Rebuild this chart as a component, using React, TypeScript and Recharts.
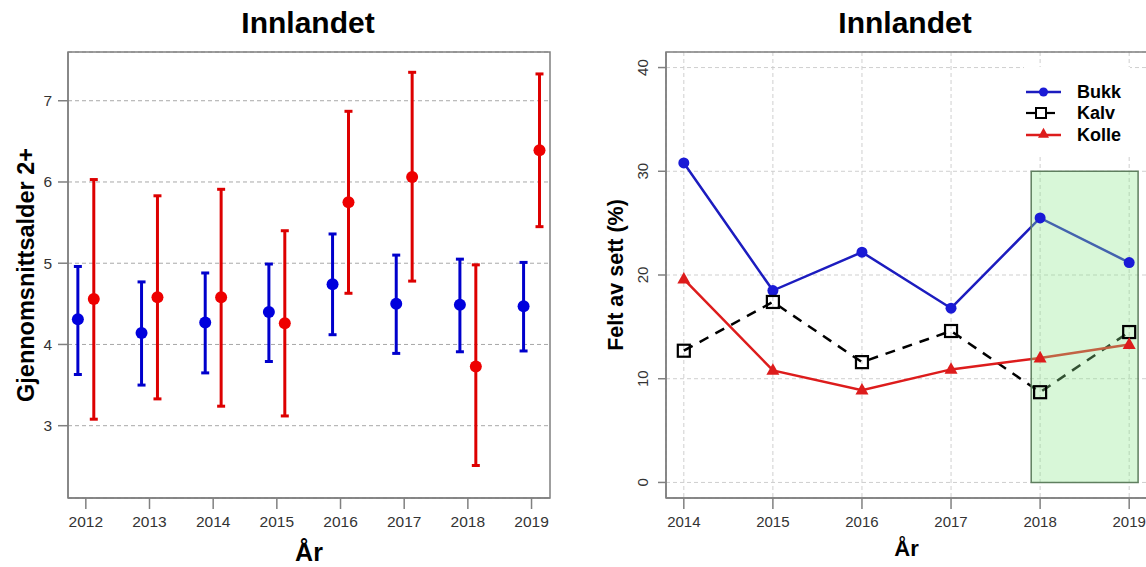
import React from 'react';
import {
  ScatterChart,
  Scatter,
  ErrorBar,
  LineChart,
  Line,
  XAxis,
  YAxis,
  CartesianGrid,
  ReferenceArea,
} from 'recharts';

const FONT = '"Liberation Sans", Arial, Helvetica, sans-serif';

// venstre panel: gjennomsnittsalder 2+ (middel og feilfelt)
const ageYears = [2012, 2013, 2014, 2015, 2016, 2017, 2018, 2019];
const blueMean = [4.31, 4.14, 4.27, 4.4, 4.74, 4.5, 4.49, 4.47];
const blueLow = [3.63, 3.5, 3.65, 3.79, 4.12, 3.89, 3.91, 3.92];
const blueHigh = [4.96, 4.77, 4.88, 4.99, 5.36, 5.1, 5.05, 5.01];
const redMean = [4.56, 4.58, 4.58, 4.26, 5.75, 6.06, 3.73, 6.39];
const redLow = [3.08, 3.33, 3.24, 3.12, 4.63, 4.78, 2.51, 5.45];
const redHigh = [6.03, 5.83, 5.91, 5.4, 6.87, 7.35, 4.98, 7.33];
const ageTicks = [3, 4, 5, 6, 7];

// høyre panel: felt av sett (%)
const shotYears = [2014, 2015, 2016, 2017, 2018, 2019];
const bukk = [30.8, 18.5, 22.2, 16.8, 25.5, 21.2];
const kalv = [12.7, 17.4, 11.6, 14.6, 8.7, 14.5];
const kolle = [19.6, 10.8, 8.9, 10.9, 12.0, 13.3];
const shotTicks = [0, 10, 20, 30, 40];
const legendNames = ['Bukk', 'Kalv', 'Kolle'];

const TITLE = 'Innlandet';
const DODGE = 0.125;

const blueRows = ageYears.map((yr, i) => ({
  x: yr - DODGE,
  y: blueMean[i],
  err: [blueMean[i] - blueLow[i], blueHigh[i] - blueMean[i]],
}));
const redRows = ageYears.map((yr, i) => ({
  x: yr + DODGE,
  y: redMean[i],
  err: [redMean[i] - redLow[i], redHigh[i] - redMean[i]],
}));
const shotRows = shotYears.map((yr, i) => ({
  year: yr,
  bukk: bukk[i],
  kalv: kalv[i],
  kolle: kolle[i],
}));

const BLUE = '#0000dd';
const RED = '#ee0000';
const LINE_BLUE = '#1c1cbf';
const LINE_RED = '#dd1c1c';
const FRAME = '#808080';

const XTitle = (props: any) => {
  const { viewBox, text, dy, size } = props;
  return (
    <text
      x={viewBox.x + viewBox.width / 2}
      y={viewBox.y + dy}
      textAnchor="middle"
      fontFamily={FONT}
      fontWeight="bold"
      fontSize={size}
      fill="#000"
    >
      {text}
    </text>
  );
};

const YTitle = (props: any) => {
  const { viewBox, text, x, size } = props;
  const cy = viewBox.y + viewBox.height / 2;
  return (
    <text
      x={x}
      y={cy}
      transform={`rotate(-90 ${x} ${cy})`}
      textAnchor="middle"
      fontFamily={FONT}
      fontWeight="bold"
      fontSize={size}
      fill="#000"
    >
      {text}
    </text>
  );
};

const RotatedTick = (props: any) => {
  const { x, y, payload } = props;
  return (
    <text
      x={x}
      y={y}
      transform={`rotate(-90 ${x} ${y})`}
      textAnchor="middle"
      fontFamily={FONT}
      fontSize={15}
      fill="#333"
    >
      {payload.value}
    </text>
  );
};

const circleShape = (color: string) => (props: any) =>
  <circle cx={props.cx} cy={props.cy} r={6} fill={color} />;

const Triangle = ({ cx, cy, color, size }: any) => {
  const h = size * 0.9;
  return (
    <polygon
      points={`${cx},${cy - h * 0.62} ${cx - size / 2},${cy + h * 0.38} ${cx + size / 2},${cy + h * 0.38}`}
      fill={color}
    />
  );
};

const triangleDot = (props: any) => (
  <Triangle key={`t-${props.index}`} cx={props.cx} cy={props.cy} color={LINE_RED} size={13} />
);
const squareDot = (props: any) => (
  <rect
    key={`s-${props.index}`}
    x={props.cx - 6}
    y={props.cy - 6}
    width={12}
    height={12}
    fill="none"
    stroke="#000"
    strokeWidth={2.2}
  />
);
const circleDot = (props: any) => (
  <circle key={`c-${props.index}`} cx={props.cx} cy={props.cy} r={5.5} fill="#1a1ad6" />
);

const tickStyle = { fill: '#333', fontSize: 15.5, fontFamily: FONT };

const AgePanel = () => (
  <ScatterChart width={570} height={567} margin={{ top: 52, right: 20, bottom: 0, left: 0 }}>
    <CartesianGrid vertical={false} stroke="#a8a8a8" strokeDasharray="4 3" />
    <XAxis
      type="number"
      dataKey="x"
      domain={[2011.72, 2019.29]}
      ticks={ageYears}
      allowDataOverflow
      height={69}
      tickSize={11}
      tickMargin={7}
      stroke={FRAME}
      strokeWidth={1.5}
      tick={tickStyle}
      label={<XTitle text="År" dy={63} size={25} />}
    />
    <YAxis
      type="number"
      dataKey="y"
      domain={[2.11, 7.6]}
      ticks={ageTicks}
      allowDataOverflow
      width={68}
      tickSize={10}
      tickMargin={6}
      stroke={FRAME}
      strokeWidth={1.5}
      tick={tickStyle}
      label={<YTitle text="Gjennomsnittsalder 2+" x={29} size={23.5} />}
    />
    <ReferenceArea x1={2011.72} x2={2019.29} y1={2.11} y2={7.6} fill="none" stroke={FRAME} strokeWidth={1.5} />
    <Scatter data={blueRows} shape={circleShape(BLUE)} isAnimationActive={false}>
      <ErrorBar dataKey="err" direction="y" width={4} strokeWidth={3} stroke="#0000cc" isAnimationActive={false} />
    </Scatter>
    <Scatter data={redRows} shape={circleShape(RED)} isAnimationActive={false}>
      <ErrorBar dataKey="err" direction="y" width={4} strokeWidth={3} stroke="#dd0000" isAnimationActive={false} />
    </Scatter>
  </ScatterChart>
);

const ShotPanel = () => (
  <LineChart width={570} height={567} data={shotRows} margin={{ top: 52, right: 3, bottom: 0, left: 0 }}>
    <CartesianGrid stroke="#cfcfcf" strokeDasharray="4 3" />
    <XAxis
      type="number"
      dataKey="year"
      domain={[2013.8, 2019.2]}
      ticks={shotYears}
      allowDataOverflow
      height={69}
      tickSize={11}
      tickMargin={7}
      stroke={FRAME}
      strokeWidth={1.5}
      tick={{ ...tickStyle, fontSize: 15 }}
      label={<XTitle text="År" dy={58} size={22} />}
    />
    <YAxis
      type="number"
      domain={[-1.5, 41.5]}
      ticks={shotTicks}
      allowDataOverflow
      width={86}
      tickSize={8}
      tickMargin={10}
      stroke={FRAME}
      strokeWidth={1.5}
      tick={<RotatedTick />}
      label={<YTitle text="Felt av sett (%)" x={41} size={21.5} />}
    />
    <ReferenceArea x1={2013.8} x2={2019.2} y1={-1.5} y2={41.5} fill="none" stroke={FRAME} strokeWidth={1.5} />
    <Line dataKey="bukk" stroke={LINE_BLUE} strokeWidth={2.5} dot={circleDot} isAnimationActive={false} />
    <Line dataKey="kalv" stroke="#000" strokeWidth={2.5} strokeDasharray="10 8" dot={squareDot} isAnimationActive={false} />
    <Line dataKey="kolle" stroke={LINE_RED} strokeWidth={2.5} dot={triangleDot} isAnimationActive={false} />
    <ReferenceArea
      x1={2017.9}
      x2={2019.1}
      y1={0}
      y2={30}
      fill="#8fe88f"
      fillOpacity={0.35}
      stroke="#5f7f5f"
      strokeWidth={1.5}
      {...({ zIndex: 450 } as any)}
    />
  </LineChart>
);

const Legend = () => (
  <svg width={106} height={90} style={{ position: 'absolute', left: 1024, top: 67 }}>
    <rect x={0} y={0} width={106} height={90} fill="#fff" />
    {legendNames.map((name, i) => {
      const cy = [25, 46, 68][i];
      return (
        <g key={name}>
          {i === 0 && (
            <>
              <line x1={2} x2={37} y1={cy} y2={cy} stroke={LINE_BLUE} strokeWidth={2.5} />
              <circle cx={19.5} cy={cy} r={4.5} fill="#1a1ad6" />
            </>
          )}
          {i === 1 && (
            <>
              <line x1={2} x2={31} y1={cy} y2={cy} stroke="#000" strokeWidth={2.2} />
              <rect x={12} y={cy - 5} width={10} height={10} fill="#fff" stroke="#000" strokeWidth={2} />
            </>
          )}
          {i === 2 && (
            <>
              <line x1={2} x2={37} y1={cy} y2={cy} stroke={LINE_RED} strokeWidth={2.5} />
              <Triangle cx={19.5} cy={cy - 1} color={LINE_RED} size={11} />
            </>
          )}
          <text x={53} y={cy + 6} fontFamily={FONT} fontWeight="bold" fontSize={18} fill="#000">
            {name}
          </text>
        </g>
      );
    })}
  </svg>
);

const titleStyle: React.CSSProperties = {
  position: 'absolute',
  top: 5,
  width: 300,
  textAlign: 'center',
  fontFamily: FONT,
  fontWeight: 'bold',
  fontSize: 30,
  color: '#000',
  lineHeight: '36px',
};

export default function App() {
  return (
    <div
      style={{
        position: 'absolute',
        left: 0,
        top: 0,
        width: 1146,
        height: 567,
        overflow: 'hidden',
        background: '#fff',
      }}
    >
      <div style={{ ...titleStyle, left: 308 - 150 }}>{TITLE}</div>
      <div style={{ ...titleStyle, left: 905 - 150 }}>{TITLE}</div>
      <div style={{ position: 'absolute', left: 0, top: 0 }}>
        <AgePanel />
      </div>
      <div style={{ position: 'absolute', left: 580, top: 0 }}>
        <ShotPanel />
      </div>
      <Legend />
    </div>
  );
}
